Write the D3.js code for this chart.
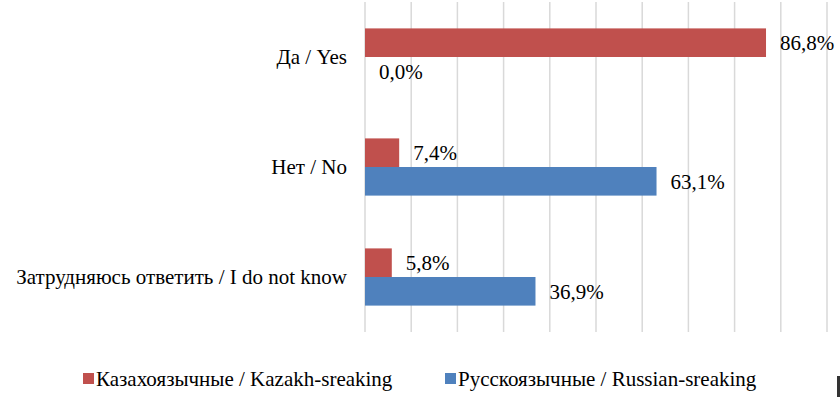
<!DOCTYPE html>
<html><head><meta charset="utf-8">
<script src="https://cdn.jsdelivr.net/npm/d3@7"></script>
<style>
html,body{margin:0;padding:0;background:#fff;}
</style></head>
<body>
<svg id="chart" width="840" height="397"></svg>
<script>
const categories = ["Да / Yes", "Нет / No", "Затрудняюсь ответить / I do not know"];
const seriesNames = ["Казахоязычные / Kazakh-sreaking", "Русскоязычные / Russian-sreaking"];
const kazakhValues = [86.8, 7.4, 5.8];
const russianValues = [0.0, 63.1, 36.9];
const xTicks = [0,10,20,30,40,50,60,70,80,90,100];
const colors = ["#C0504D", "#4F81BD"];
const FONT = "'Liberation Serif', 'DejaVu Serif', serif";

const svg = d3.select("#chart");
const x = d3.scaleLinear().domain([0,100]).range([365,827]);
const y = d3.scaleBand().domain(categories).range([2,332]).paddingInner(0.48).paddingOuter(0.24);
const sub = d3.scaleBand().domain([0,1]).range([0,y.bandwidth()]);
const fmt = v => v.toFixed(1).replace(".", ",") + "%";

svg.append("g").selectAll("line").data(xTicks).join("line")
  .attr("x1", d=>x(d)).attr("x2", d=>x(d))
  .attr("y1", 2).attr("y2", 332)
  .attr("stroke", "#D9D9D9").attr("stroke-width", 1.5);

const series = [kazakhValues, russianValues];
series.forEach((vals, si) => {
  const g = svg.append("g");
  g.selectAll("rect").data(vals).join("rect")
    .attr("x", x(0))
    .attr("y", (d,i)=>y(categories[i]) + sub(si))
    .attr("width", d=>x(d)-x(0))
    .attr("height", sub.bandwidth())
    .attr("fill", colors[si]);
  g.selectAll("text").data(vals).join("text")
    .attr("x", d=>x(d)+14)
    .attr("y", (d,i)=>y(categories[i]) + sub(si) + sub.bandwidth()/2)
    .attr("dy", "0.35em")
    .style("font-family", FONT)
    .style("font-size", "21px")
    .attr("fill", "#000")
    .text(fmt);
});

svg.append("g").selectAll("text").data(categories).join("text")
  .attr("x", 347)
  .attr("y", d=>y(d)+y.bandwidth()/2)
  .attr("dy","0.35em")
  .attr("text-anchor","end")
  .style("font-family", FONT)
  .style("font-size", "21px")
  .text(d=>d);

const legX = [83, 445];
const leg = svg.append("g").selectAll("g").data(seriesNames).join("g")
  .attr("transform", (d,i)=>`translate(${legX[i]},373)`);
leg.append("rect").attr("width", 11).attr("height", 11).attr("fill", (d,i)=>colors[i]);
leg.append("text").attr("x", 13).attr("y", 5.5).attr("dy","0.35em")
  .style("font-family", FONT)
  .style("font-size", "21px").text(d=>d);

svg.append("rect").attr("x", 837).attr("y", 376).attr("width", 3).attr("height", 21).attr("fill", "#333");
</script>
</body></html>
